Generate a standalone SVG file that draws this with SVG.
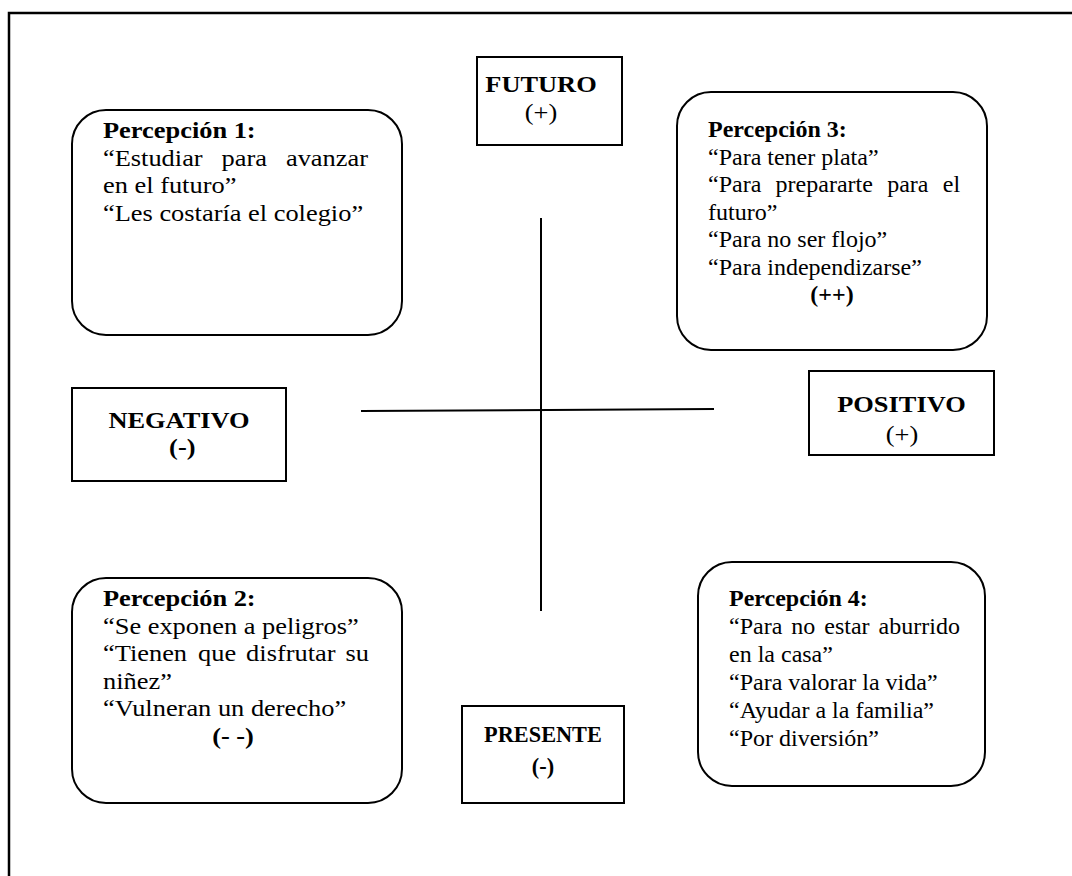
<svg xmlns="http://www.w3.org/2000/svg" width="1072" height="876" viewBox="0 0 1072 876">
  <style>
    .frame { fill: none; stroke: #000; stroke-width: 2.5; }
    .box { fill: #fff; stroke: #000; stroke-width: 2; }
    .axis { fill: none; stroke: #000; stroke-width: 2; }
    text { font-family: "Liberation Serif", "Times New Roman", serif; font-size: 24px; fill: #000; }
    .b { font-weight: bold; }
    .c { text-anchor: middle; }
  </style>

  <rect width="1072" height="876" fill="#fff"/>
  <!-- outer frame, open on the right and bottom -->
  <path class="frame" d="M9,876 V13 H1072"/>

  <!-- axes -->
  <g id="connectors">
    <line class="axis" x1="541" y1="218" x2="541" y2="611"/>
    <line class="axis" x1="361" y1="411" x2="714" y2="409"/>
  </g>

  <g id="futuro">
    <rect class="box" x="477" y="57" width="145" height="88"/>
    <g transform="translate(541 0) scale(1.1 1) translate(-541 0)">
      <text class="b c" x="541" y="92">FUTURO</text>
      <text class="c" x="541" y="120">(+)</text>
    </g>
  </g>

  <g id="negativo">
    <rect class="box" x="72" y="388" width="214" height="93"/>
    <g transform="translate(179 0) scale(1.1 1) translate(-179 0)">
      <text class="b c" x="179" y="428">NEGATIVO</text>
      <text class="b c" x="182" y="455">(-)</text>
    </g>
  </g>

  <g id="positivo">
    <rect class="box" x="809" y="371" width="185" height="84"/>
    <g transform="translate(901.5 0) scale(1.1 1) translate(-901.5 0)">
      <text class="b c" x="901.5" y="412">POSITIVO</text>
      <text class="c" x="902" y="442">(+)</text>
    </g>
  </g>

  <g id="presente">
    <rect class="box" x="462" y="706" width="162" height="97"/>
    <g transform="translate(543 0) scale(0.93 1) translate(-543 0)">
      <text class="b c" x="543" y="742">PRESENTE</text>
      <text class="b c" x="543" y="774">(-)</text>
    </g>
  </g>

  <g id="percepcion1">
    <rect class="box" x="72" y="110" width="330" height="225" rx="34" ry="34"/>
    <g transform="translate(103 0) scale(1.1 1) translate(-103 0)">
      <text class="b" x="103" y="138">Percepción 1:</text>
      <text y="165.6"><tspan x="103">“Estudiar</tspan><tspan x="210.8">para</tspan><tspan x="269.3">avanzar</tspan></text>
      <text x="103" y="193.2">en el futuro”</text>
      <text x="103" y="220.8">“Les costaría el colegio”</text>
    </g>
  </g>

  <g id="percepcion3">
    <rect class="box" x="677" y="92" width="310" height="258" rx="34" ry="34"/>
    <text class="b" x="708" y="137">Percepción 3:</text>
    <text x="708" y="164.5">“Para tener plata”</text>
    <text y="192"><tspan x="708">“Para</tspan><tspan x="775.6">prepararte</tspan><tspan x="887.2">para</tspan><tspan x="942.8">el</tspan></text>
    <text x="708" y="219.5">futuro”</text>
    <text x="708" y="247">“Para no ser flojo”</text>
    <text x="708" y="274.5">“Para independizarse”</text>
    <text class="b c" x="832" y="302">(++)</text>
  </g>

  <g id="percepcion2">
    <rect class="box" x="72" y="578" width="330" height="225" rx="34" ry="34"/>
    <g transform="translate(103 0) scale(1.1 1) translate(-103 0)">
      <text class="b" x="103" y="606">Percepción 2:</text>
      <text x="103" y="633.6">“Se exponen a peligros”</text>
      <text y="661.2"><tspan x="103">“Tienen</tspan><tspan x="189.4">que</tspan><tspan x="233.1">disfrutar</tspan><tspan x="323.5">su</tspan></text>
      <text x="103" y="688.8">niñez”</text>
      <text x="103" y="716.4">“Vulneran un derecho”</text>
      <text class="b c" x="221.2" y="744">(- -)</text>
    </g>
  </g>

  <g id="percepcion4">
    <rect class="box" x="698" y="562" width="287" height="224" rx="34" ry="34"/>
    <text class="b" x="729" y="606">Percepción 4:</text>
    <text y="634"><tspan x="729">“Para</tspan><tspan x="791.3">no</tspan><tspan x="824.3">estar</tspan><tspan x="878.6">aburrido</tspan></text>
    <text x="729" y="662">en la casa”</text>
    <text x="729" y="690">“Para valorar la vida”</text>
    <text x="729" y="718">“Ayudar a la familia”</text>
    <text x="729" y="746">“Por diversión”</text>
  </g>
</svg>
